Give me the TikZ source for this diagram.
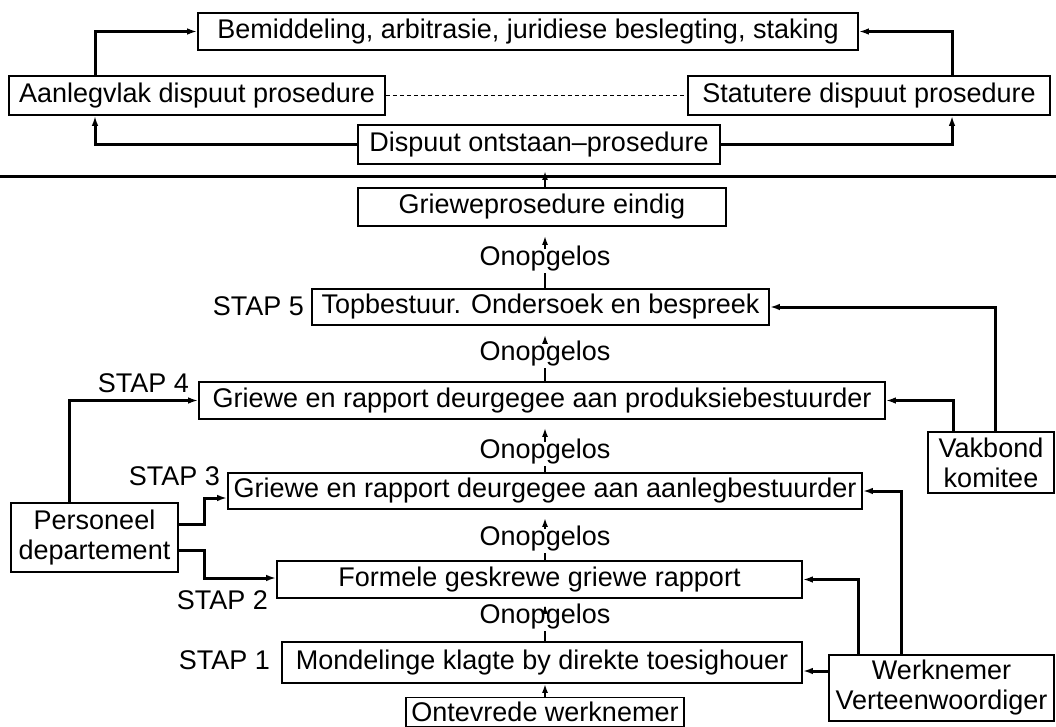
\documentclass[tikz,border=0pt]{standalone}
\usepackage{fontspec}
\setmainfont{Liberation Sans}
\usetikzlibrary{arrows.meta}
\begin{document}
\begin{tikzpicture}[x=1pt,y=-1pt,
  box/.style={draw,line width=1.6pt,inner sep=0pt,font=\fontsize{27}{30}\selectfont,align=center},
  conn/.style={line width=3pt},
  arr/.style={-{Latex[length=10pt,width=6.5pt]}},
  sarr/.style={line width=2.2pt,-{Latex[length=9pt,width=6pt]}},
  stem/.style={line width=2.2pt},
  lab/.style={font=\fontsize{27}{30}\selectfont,inner sep=1pt},
]
\useasboundingbox (0,0) rectangle (1056,727);
% top section
\node[box,minimum width=660pt,minimum height=37pt] (bem) at (528,31.5) {Bemiddeling, arbitrasie, juridiese beslegting, staking};
\node[box,minimum width=376pt,minimum height=39pt] (aan) at (197,95.5) {Aanlegvlak dispuut prosedure};
\node[box,minimum width=362pt,minimum height=39pt] (sta) at (869,95.5) {Statutere dispuut prosedure};
\node[box,minimum width=362pt,minimum height=39pt] (dis) at (539,144.5) {Dispuut ontstaan--prosedure};
\coordinate (lx) at (95,0);
\coordinate (rx) at (952,0);
\draw[conn,arr] (dis.west) -| (aan.south -| lx);
\draw[conn,arr] (dis.east) -| (sta.south -| rx);
\draw[conn,arr] (aan.north -| lx) |- (bem.west);
\draw[conn,arr] (sta.north -| rx) |- (bem.east);
\draw[line width=1.2pt,dash pattern=on 4pt off 3pt] (aan.east) -- (sta.west);
% separator
\coordinate (hl0) at (0,177);
\coordinate (hl1) at (1056,177);
\coordinate (hlt) at (0,171);
\draw[line width=3pt] (hl0) -- (hl1);
% main column
\node[box,minimum width=368pt,minimum height=38pt] (gpe) at (542,207) {Grieweprosedure eindig};
\node[box,minimum width=457pt,minimum height=36pt] (s5) at (540.5,307) {Topbestuur. Ondersoek en bespreek};
\node[box,minimum width=686pt,minimum height=37pt] (s4) at (542,400.5) {Griewe en rapport deurgegee aan produksiebestuurder};
\node[box,minimum width=634pt,minimum height=36pt] (s3) at (545,491) {Griewe en rapport deurgegee aan aanlegbestuurder};
\node[box,minimum width=525pt,minimum height=37pt] (s2) at (539.5,579.5) {Formele geskrewe griewe rapport};
\node[box,minimum width=520pt,minimum height=41pt] (s1) at (542,662.5) {Mondelinge klagte by direkte toesighouer};
\node[box,minimum width=278pt,minimum height=29pt] (ont) at (545,712) {Ontevrede werknemer};
% STAP labels
\node[lab,anchor=east] (st5) at (305,306) {STAP 5};
\node[lab,anchor=east] (st4) at (190,383) {STAP 4};
\node[lab,anchor=east] (st3) at (221,476) {STAP 3};
\node[lab,anchor=east] (st2) at (269,600) {STAP 2};
\node[lab,anchor=east] (st1) at (271,660) {STAP 1};
% Onopgelos labels
\node[lab] (o5) at (545,259) {Onopgelos};
\node[lab] (o4) at (545,354) {Onopgelos};
\node[lab] (o3) at (545,452) {Onopgelos};
\node[lab] (o2) at (545,539) {Onopgelos};
\node[lab] (o1) at (545,617) {Onopgelos};
\draw[stem] (s5.north -| o5) -- (o5.south);
\draw[sarr] ([yshift=-4pt]o5.north) -- ([yshift=-9pt]gpe.south -| o5);
\draw[stem] (s4.north -| o4) -- (o4.south);
\draw[sarr] ([yshift=-4pt]o4.north) -- ([yshift=-9pt]s5.south -| o4);
\draw[stem] (s3.north -| o3) -- (o3.south);
\draw[sarr] ([yshift=-4pt]o3.north) -- ([yshift=-8pt]s4.south -| o3);
\draw[stem] (s2.north -| o2) -- (o2.south);
\draw[sarr] ([yshift=-4pt]o2.north) -- ([yshift=-8pt]s3.south -| o2);
\draw[stem] (s1.north -| o1) -- (o1.south);
\draw[sarr] ([yshift=-4pt]o1.north) -- ([yshift=-6pt]s2.south -| o1);
\draw[sarr] (ont.north) -- (s1.south -| ont.north);
\draw[sarr] (gpe.north -| o5) -- (o5 |- hlt);
% side boxes
\node[box,minimum width=126pt,minimum height=61pt] (vak) at (991,462.5) {Vakbond\\komitee};
\node[box,minimum width=225pt,minimum height=66pt] (wv) at (941.5,688) {Werknemer\\Verteenwoordiger};
\node[box,minimum width=167pt,minimum height=69pt] (per) at (94.5,537.5) {Personeel\\departement};
\coordinate (v1) at (953,0);
\coordinate (v2) at (995,0);
\coordinate (w1) at (858,0);
\coordinate (w2) at (901,0);
\coordinate (w0) at (0,671);
\coordinate (p1) at (69,0);
\coordinate (k1) at (204,524);
\coordinate (k2) at (204,498);
\coordinate (k3) at (204,550);
\coordinate (k4) at (204,578);
\draw[conn,arr] (vak.north -| v2) |- (s5.east);
\draw[conn,arr] (vak.north -| v1) |- (s4.east);
\draw[conn,arr] (wv.north -| w2) |- (s3.east);
\draw[conn,arr] (wv.north -| w1) |- (s2.east);
\draw[conn,arr] (wv.west |- w0) -- (s1.east |- w0);
\draw[conn,arr] (per.north -| p1) |- (s4.west);
\draw[conn,arr] (per.east |- k1) -- (k1) -- (k2) -- (s3.west |- k2);
\draw[conn,arr] (per.east |- k3) -- (k3) -- (k4) -- (s2.west |- k4);
\end{tikzpicture}
\end{document}
